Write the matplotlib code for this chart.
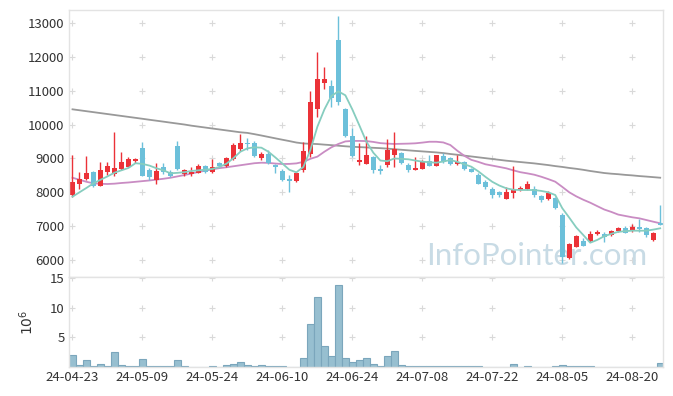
import numpy as np
import pandas as pd
import matplotlib
matplotlib.use('Agg')
import matplotlib.pyplot as plt

plt.rcParams['font.family'] = ['Noto Sans CJK KR', 'DejaVu Sans']

# trading days (KRX holidays removed)
holidays = ['2024-05-01', '2024-05-06', '2024-05-15', '2024-06-06', '2024-08-15']
dates = [d for d in pd.bdate_range('2024-04-23', '2024-08-26') if d.strftime('%Y-%m-%d') not in holidays]

opens = [7919, 8245, 8384, 8609, 8195, 8609, 8541, 8689, 8757, 8934,
         9319, 8659, 8363, 8739, 8609, 9369, 8541, 8541, 8580, 8778,
         8609, 8857, 8786, 8985, 9272, 9467, 9467, 9024, 9133, 8807,
         8630, 8393, 8343, 8659, 9133, 10464, 11242, 11145, 12506, 10464,
         9665, 8905, 8837, 9053, 8689, 8807, 9103, 9153, 8807, 8659,
         8689, 8926, 8787, 9073, 9005, 8828, 8905, 8689, 8511, 8294,
         8088, 8000, 7801, 7970, 8066, 8088, 8107, 7890, 7792, 7822,
         7328, 6046, 6390, 6549, 6558, 6765, 6755, 6735, 6864, 6934,
         6855, 6963, 6934, 6588, 7082]
highs = [9103, 8591, 9073, 8630, 8905, 8905, 9793, 9183, 9034, 9024,
         9479, 8708, 8857, 8877, 8659, 9526, 8689, 8757, 8837, 8807,
         8975, 8896, 9053, 9449, 9716, 9597, 9526, 9201, 9251, 8837,
         8679, 8511, 8600, 9479, 10997, 12142, 11716, 11322, 13216, 10480,
         9893, 9449, 9665, 9070, 8807, 9567, 9784, 9183, 8857, 9053,
         8955, 9093, 9110, 9172, 9053, 9093, 8915, 8730, 8560, 8363,
         8147, 8048, 8147, 8787, 8176, 8334, 8176, 7919, 8048, 7870,
         7396, 6490, 6750, 6637, 6855, 6884, 6834, 6884, 6982, 7001,
         7050, 7200, 6963, 6834, 7636]
lows = [7851, 8088, 8363, 8165, 8180, 8511, 8482, 8659, 8737, 8875,
        8480, 8363, 8236, 8541, 8461, 8659, 8482, 8482, 8561, 8580,
        8580, 8710, 8757, 8955, 9230, 9251, 9053, 8955, 8837, 8561,
        8343, 8017, 8313, 8591, 9053, 10236, 11047, 10523, 10582, 9650,
        9050, 8807, 8837, 8580, 8541, 8757, 8757, 8840, 8609, 8650,
        8680, 8777, 8780, 8875, 8820, 8820, 8650, 8600, 8240, 8088,
        7840, 7851, 7795, 7822, 8048, 8066, 7870, 7722, 7780, 7496,
        5899, 6016, 6370, 6400, 6538, 6735, 6538, 6706, 6834, 6785,
        6824, 6834, 6686, 6568, 7020]
closes = [8313, 8384, 8579, 8195, 8659, 8778, 8710, 8887, 8985, 8985,
          8490, 8461, 8630, 8591, 8490, 8689, 8659, 8609, 8778, 8609,
          8739, 8778, 9024, 9399, 9467, 9440, 9073, 9133, 8857, 8757,
          8363, 8343, 8561, 9221, 10680, 11352, 11352, 10781, 10680, 9665,
          9073, 8955, 9103, 8659, 8639, 9251, 9272, 8857, 8659, 8728,
          8926, 8787, 9103, 8905, 8828, 8905, 8680, 8609, 8245, 8166,
          7919, 7919, 8017, 8107, 8137, 8245, 7919, 7770, 7988, 7526,
          6076, 6469, 6706, 6410, 6765, 6834, 6686, 6855, 6952, 6804,
          6982, 6904, 6735, 6804, 7040]
# volume, millions of shares
volume = [2.0, 0.3, 1.2, 0.1, 0.5, 0.15, 2.6, 0.35, 0.15, 0.15,
          1.37, 0.15, 0.15, 0.15, 0.15, 1.2, 0.15, 0.05, 0.03, 0.03,
          0.15, 0.03, 0.35, 0.5, 0.85, 0.35, 0.15, 0.3, 0.15, 0.15,
          0.15, 0.03, 0.03, 1.55, 7.25, 11.8, 3.6, 1.9, 13.9, 1.55,
          0.85, 1.1, 1.55, 0.5, 0.15, 1.9, 2.75, 0.35, 0.15, 0.15,
          0.15, 0.15, 0.15, 0.15, 0.15, 0.15, 0.15, 0.15, 0.15, 0.03,
          0.03, 0.03, 0.03, 0.5, 0.03, 0.15, 0.03, 0.03, 0.03, 0.15,
          0.35, 0.15, 0.15, 0.15, 0.15, 0.03, 0.03, 0.03, 0.03, 0.03,
          0.03, 0.03, 0.03, 0.03, 0.7]
# moving averages as drawn (they need history before the window)
ma5 = [7870, 8000, 8130, 8266, 8370, 8470, 8580, 8650, 8720, 8860,
       8840, 8790, 8710, 8650, 8561, 8575, 8595, 8630, 8650, 8668,
       8690, 8750, 8845, 9010, 9201, 9300, 9331, 9320, 9200, 9030,
       8850, 8665, 8591, 8750, 9251, 9940, 10450, 10850, 10985, 10870,
       10450, 9980, 9500, 9170, 8940, 8920, 9000, 8990, 8976, 8940,
       8905, 8890, 8875, 8910, 8955, 8900, 8830, 8757, 8620, 8460,
       8310, 8200, 8118, 8075, 8067, 8067, 8067, 8040, 8000, 7919,
       7530, 7250, 6960, 6736, 6508, 6590, 6700, 6770, 6830, 6850,
       6863, 6863, 6863, 6895, 6934]
ma20 = [8431, 8370, 8310, 8266, 8250, 8245, 8255, 8275, 8290, 8310,
        8330, 8350, 8375, 8400, 8430, 8470, 8510, 8555, 8600, 8640,
        8680, 8715, 8740, 8770, 8800, 8830, 8860, 8875, 8870, 8850,
        8836, 8840, 8855, 8900, 8990, 9055, 9200, 9330, 9430, 9505,
        9520, 9520, 9515, 9490, 9455, 9440, 9430, 9435, 9440, 9449,
        9470, 9495, 9495, 9475, 9399, 9230, 9080, 8960, 8900, 8830,
        8790, 8750, 8709, 8650, 8595, 8560, 8520, 8460, 8390, 8313,
        8160, 8000, 7880, 7780, 7692, 7590, 7490, 7420, 7340, 7300,
        7260, 7230, 7180, 7130, 7082]
ma120 = [10455, 10427, 10399, 10371, 10343, 10315, 10287, 10259, 10231, 10203,
         10175, 10146, 10118, 10090, 10061, 10033, 10005, 9971, 9943, 9915,
         9887, 9859, 9831, 9803, 9775, 9757, 9720, 9680, 9638, 9596,
         9555, 9515, 9472, 9445, 9435, 9427, 9410, 9395, 9378, 9361,
         9347, 9337, 9327, 9316, 9306, 9292, 9275, 9258, 9241, 9225,
         9210, 9195, 9180, 9160, 9133, 9110, 9085, 9060, 9035, 9010,
         8985, 8960, 8935, 8915, 8895, 8875, 8855, 8830, 8805, 8775,
         8750, 8720, 8695, 8665, 8630, 8600, 8570, 8550, 8535, 8515,
         8500, 8480, 8465, 8448, 8431]

UP = '#eb3238'
DOWN = '#6cc0da'
GRID = '#d9d9d9'
EDGE = '#e3e3e3'

x = np.arange(len(dates))
o = np.array(opens); c = np.array(closes)
cols = [UP if cc >= oo else DOWN for oo, cc in zip(o, c)]

fig = plt.figure(figsize=(6.73, 3.96), dpi=100)
ax = fig.add_axes([69/673, 119/396, 594/673, 267/396])
axv = fig.add_axes([69/673, 29/396, 594/673, 90/396], sharex=ax)

tick_idx = list(range(0, len(dates), 10))
tick_labels = [dates[i].strftime('%y-%m-%d') for i in tick_idx]
price_ticks = list(range(6000, 13001, 1000))
vol_ticks = [5, 10, 15]

# grid crosses
for t in tick_idx:
    ax.plot([t] * len(price_ticks), price_ticks, ls='none', marker='+', ms=5, mew=0.8, color=GRID, zorder=0)
    axv.plot([t] * len(vol_ticks), vol_ticks, ls='none', marker='+', ms=5, mew=0.8, color=GRID, zorder=0)

ax.text(0.973, 0.045, 'InfoPointer.com', transform=ax.transAxes, ha='right', va='baseline',
        fontsize=22.5, color='#c8dbe5', family=['Lato', 'DejaVu Sans'], zorder=0.5)

ax.plot(x, ma120, color='#999999', lw=1.3, zorder=1)
ax.plot(x, ma20, color='#c98cc3', lw=1.3, zorder=1)
ax.plot(x, ma5, color='#86cdbf', lw=1.3, zorder=3)

ax.vlines(x, lows, highs, colors=cols, lw=1, zorder=2)
body_bot = np.minimum(o, c)
body_h = np.maximum(np.abs(c - o), 30)
ax.bar(x, body_h, bottom=body_bot, width=0.72, color=cols, zorder=2)

ax.set_xlim(-0.5, 84.4)
ax.set_ylim(5493, 13394)
ax.set_yticks(price_ticks)
ax.tick_params(axis='both', length=0, labelsize=9.5, colors='#333333')
ax.tick_params(axis='x', labelbottom=False)

axv.bar(x, volume, width=1.0, color='#97bfd0', edgecolor='#7ba6bc', lw=0.8, zorder=2)
axv.set_ylim(0, 15.2)
axv.set_yticks(vol_ticks)
axv.set_xticks(tick_idx)
axv.set_xticklabels(tick_labels)
axv.tick_params(axis='both', length=0, labelsize=9.5, colors='#333333', pad=3)
axv.set_ylabel('$10^6$', fontsize=10, color='#333333', labelpad=10)

for a in (ax, axv):
    for s in a.spines.values():
        s.set_color(EDGE)
        s.set_linewidth(1)

fig.savefig('out.png', dpi=100)
